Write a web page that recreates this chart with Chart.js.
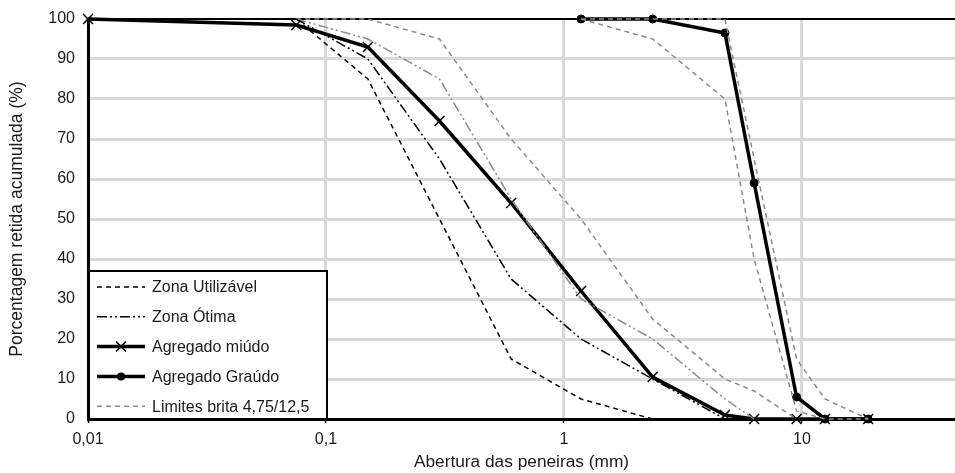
<!DOCTYPE html>
<html>
<head>
<meta charset="utf-8">
<script src="https://cdn.jsdelivr.net/npm/chart.js@4.4.1/dist/chart.umd.min.js"></script>
<style>
  html, body { margin: 0; padding: 0; background: #fff; }
  #wrap { width: 955px; height: 473px; }
</style>
</head>
<body>
<div id="wrap"><canvas id="chart"></canvas></div>
<script>
// sieve openings (mm)
const miudoX = [0.01, 0.075, 0.15, 0.3, 0.6, 1.18, 2.36, 4.75, 6.3, 9.5, 12.5, 19];
const miudoY = [100, 98.5, 93, 74.5, 54, 32, 10.5, 1, 0, 0, 0, 0];

const graudoX = [1.18, 2.36, 4.75, 6.3, 9.5, 12.5, 19];
const graudoY = [100, 100, 96.5, 59, 5.5, 0, 0];

// NBR 7211 zones
const zonaX = [0.075, 0.15, 0.3, 0.6, 1.18, 2.36, 4.75, 6.3, 9.5];
const utilInf = [100, 85, 50, 15, 5, 0, null, null, null];
const utilSup = [100, 100, 95, 70, 50, 25, 10, 7, 0];
const otimaInf = [100, 90, 65, 35, 20, 10, 0, null, null];
const otimaSup = [100, 95, 85, 55, 30, 20, 5, 0, null];

const britaX = [1.18, 2.36, 4.75, 6.3, 9.5, 12.5, 19];
const britaInf = [100, 95, 80, 40, 2, 0, 0];
const britaSup = [100, 100, 100, 65, 15, 5, 0];

const xTicks = [0.01, 0.1, 1, 10];
const xTickLabels = ['0,01', '0,1', '1', '10'];

const FONT = "'Liberation Sans', Arial, sans-serif";
const GREY = '#8a8a8a';
const DASH = [5, 4];
const DASHDOT = [10, 3, 2, 3, 2, 3];

function pts(xs, ys) {
  return xs.map((x, i) => ({ x: x, y: ys[i] }));
}

function lineSet(label, xs, ys, color, width, dash, extra) {
  return Object.assign({
    label: label,
    data: pts(xs, ys),
    borderColor: color,
    backgroundColor: color,
    borderWidth: width,
    borderDash: dash,
    pointRadius: 0,
    spanGaps: false,
    tension: 0,
    clip: false
  }, extra || {});
}

const datasets = [
  lineSet('Zona Utilizável', zonaX, utilInf, '#000', 1.5, DASH),
  lineSet('', zonaX, utilSup, GREY, 1.5, DASH),
  lineSet('Zona Ótima', zonaX, otimaInf, '#000', 1.5, DASHDOT),
  lineSet('', zonaX, otimaSup, GREY, 1.5, DASHDOT),
  lineSet('Limites brita 4,75/12,5', britaX, britaInf, GREY, 1.5, DASH),
  lineSet('', britaX, britaSup, GREY, 1.5, DASH),
  lineSet('Agregado miúdo', miudoX, miudoY, '#000', 3.5, [], {
    pointStyle: 'crossRot', pointRadius: 7, pointBorderWidth: 1.5
  }),
  lineSet('Agregado Graúdo', graudoX, graudoY, '#000', 3.5, [], {
    pointStyle: 'circle', pointRadius: 4, pointBorderWidth: 1
  })
];

// legend order as in the picture
const legendOrder = [0, 2, 6, 7, 4];

const legendBox = {
  id: 'legendBox',
  afterDatasetsDraw(chart) {
    const ctx = chart.ctx;
    const a = chart.chartArea;
    const h = 148;
    const left = a.left + 1, top = a.bottom - h, w = 238;
    ctx.save();
    ctx.fillStyle = '#fff';
    ctx.fillRect(left, top, w, h);
    ctx.strokeStyle = '#000';
    ctx.lineWidth = 2;
    ctx.strokeRect(left, top, w, h);
    ctx.font = '16px ' + FONT;
    ctx.textBaseline = 'middle';
    ctx.textAlign = 'left';
    legendOrder.forEach((di, i) => {
      const ds = chart.data.datasets[di];
      const y = top + 16 + i * 29.8;
      const x0 = left + 8, x1 = left + 56;
      ctx.strokeStyle = ds.borderColor;
      ctx.lineWidth = ds.borderWidth;
      ctx.setLineDash(ds.borderDash || []);
      ctx.beginPath();
      ctx.moveTo(x0, y);
      ctx.lineTo(x1, y);
      ctx.stroke();
      ctx.setLineDash([]);
      const cx = (x0 + x1) / 2;
      if (ds.pointStyle === 'crossRot') {
        const r = ds.pointRadius * Math.SQRT1_2;
        ctx.lineWidth = ds.pointBorderWidth;
        ctx.beginPath();
        ctx.moveTo(cx - r, y - r); ctx.lineTo(cx + r, y + r);
        ctx.moveTo(cx - r, y + r); ctx.lineTo(cx + r, y - r);
        ctx.stroke();
      } else if (ds.pointStyle === 'circle') {
        ctx.fillStyle = '#000';
        ctx.beginPath();
        ctx.arc(cx, y, ds.pointRadius, 0, Math.PI * 2);
        ctx.fill();
      }
      ctx.fillStyle = '#1a1a1a';
      ctx.fillText(ds.label, left + 63, y + 1);
    });
    ctx.restore();
  }
};

new Chart(document.getElementById('chart'), {
  type: 'line',
  data: { datasets: datasets },
  plugins: [legendBox],
  options: {
    responsive: true,
    maintainAspectRatio: false,
    animation: false,
    layout: { autoPadding: false, padding: { top: 19, right: 0, left: 0, bottom: 0 } },
    plugins: {
      legend: { display: false },
      tooltip: { enabled: false }
    },
    scales: {
      x: {
        type: 'logarithmic',
        min: 0.01,
        max: 44,
        afterBuildTicks: s => { s.ticks = xTicks.map(v => ({ value: v })); },
        afterFit: s => { s.height = 54; s.paddingLeft = 0; s.paddingRight = 0; },
        ticks: {
          autoSkip: false,
          maxRotation: 0,
          padding: 7,
          color: '#1a1a1a',
          font: { family: FONT, size: 16 },
          callback: (v) => {
            const i = xTicks.indexOf(v);
            return i >= 0 ? xTickLabels[i] : '';
          }
        },
        grid: {
          color: '#d9d9d9',
          lineWidth: 3,
          tickColor: '#000',
          tickLength: 4,
          tickWidth: 1.5
        },
        border: { display: true, color: '#000', width: 3 },
        title: {
          display: true,
          text: 'Abertura das peneiras (mm)',
          color: '#1a1a1a',
          font: { family: FONT, size: 17.3 },
          padding: { top: 0, bottom: 0 }
        }
      },
      y: {
        min: 0,
        max: 100,
        afterFit: s => { s.width = 88; s.paddingTop = 0; s.paddingBottom = 0; },
        ticks: {
          stepSize: 10,
          padding: 13,
          color: '#1a1a1a',
          font: { family: FONT, size: 16 }
        },
        grid: {
          drawTicks: false,
          color: c => (c.tick && c.tick.value === 100) ? '#000' : '#d9d9d9',
          lineWidth: c => (c.tick && c.tick.value === 100) ? 2 : 3
        },
        border: { display: true, color: '#000', width: 3 },
        title: {
          display: true,
          text: 'Porcentagem retida acumulada (%)',
          color: '#1a1a1a',
          font: { family: FONT, size: 17.5 },
          padding: { top: 7, bottom: 0 }
        }
      }
    }
  }
});
</script>
</body>
</html>
